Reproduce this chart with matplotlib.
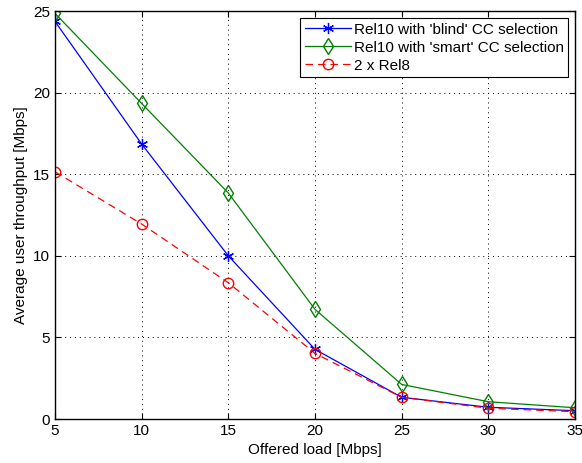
import numpy as np
import matplotlib
matplotlib.use('Agg')
import matplotlib.pyplot as plt

plt.rcParams['font.family'] = ['Liberation Sans', 'DejaVu Sans']

# datos
load = [5, 10, 15, 20, 25, 30, 35]
rel10_blind = [24.37, 16.85, 10.0, 4.27, 1.33, 0.72, 0.51]
rel10_smart = [24.86, 19.34, 13.85, 6.72, 2.12, 1.06, 0.69]
rel8_x2 = [15.15, 11.95, 8.35, 4.02, 1.33, 0.66, 0.45]

fig = plt.figure(figsize=(5.82, 4.63), dpi=100)
ax = fig.add_axes([0.0945, 0.095, 0.8935, 0.881])

# asterisco tipo MATLAB
ax.plot(load, rel10_blind, '-', marker=(6, 2, 0), color='#0000ff', lw=0.9,
        markersize=8, markeredgewidth=0.9, label="Rel10 with 'blind' CC selection")
ax.plot(load, rel10_smart, '-d', color='#008000', lw=0.9, markersize=8,
        markerfacecolor='none', label="Rel10 with 'smart' CC selection")
ax.plot(load, rel8_x2, '--o', color='#ff0000', lw=0.9, markersize=7.5,
        markerfacecolor='none', dashes=(6, 4), label='2 x Rel8')

ax.set_xlim(5, 35)
ax.set_ylim(0, 25)
ax.set_xticks([5, 10, 15, 20, 25, 30, 35])
ax.set_yticks([0, 5, 10, 15, 20, 25])
ax.grid(True, linestyle=(0, (1, 4)), color='black', linewidth=0.7)
ax.tick_params(direction='in', top=True, right=True, labelsize=11, length=4)
for s in ax.spines.values():
    s.set_linewidth(1.0)
ax.set_xlabel('Offered load [Mbps]', fontsize=11)
ax.set_ylabel('Average user throughput [Mbps]', fontsize=11)

leg = ax.legend(loc='upper right', fontsize=11, fancybox=False, edgecolor='black',
                framealpha=1, borderaxespad=0.45, handlelength=3.0, labelspacing=0.27,
                borderpad=0.3, handletextpad=0.2)
leg.get_frame().set_linewidth(0.8)

fig.savefig('out.png', dpi=100)
